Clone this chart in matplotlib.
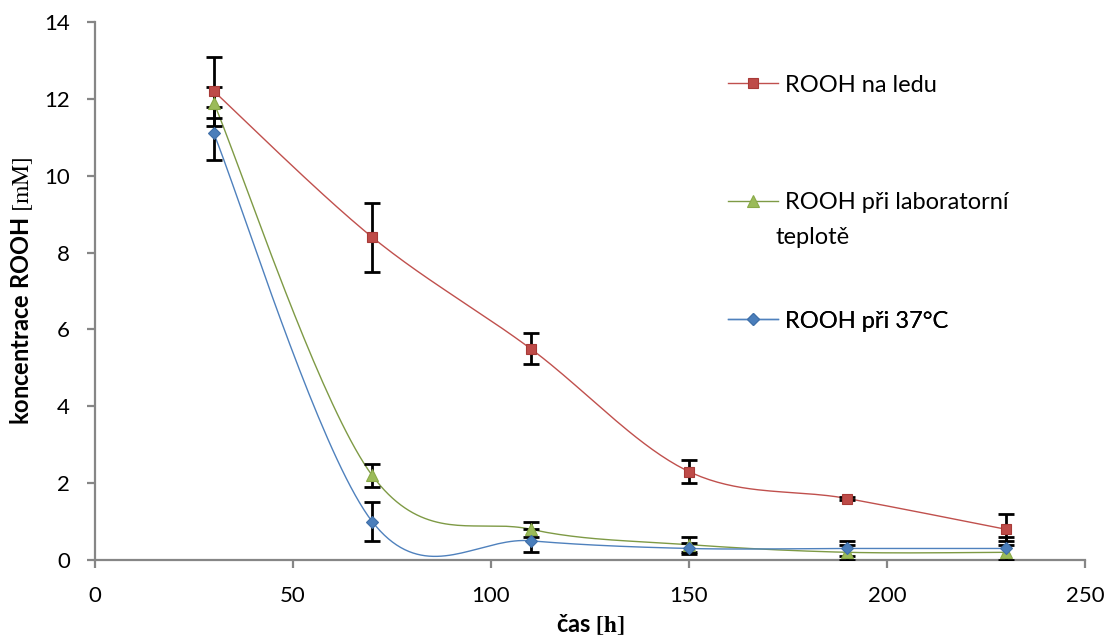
import numpy as np
import matplotlib
matplotlib.use("Agg")
import matplotlib.pyplot as plt
from matplotlib.lines import Line2D

# data
cas = [30, 70, 110, 150, 190, 230]

led = [12.2, 8.4, 5.5, 2.3, 1.6, 0.8]
led_err = [0.9, 0.9, 0.4, 0.3, 0.05, 0.4]

lab = [11.9, 2.2, 0.8, 0.4, 0.2, 0.2]
lab_err = [0.4, 0.3, 0.2, 0.2, 0.2, 0.3]

t37 = [11.1, 1.0, 0.5, 0.3, 0.3, 0.3]
t37_err = [0.7, 0.5, 0.3, 0.15, 0.2, 0.3]

labels = ["ROOH na ledu", "ROOH při laboratorní", "ROOH při 37°C"]
label_extra = "teplotě"
x_ticks = [0, 50, 100, 150, 200, 250]
y_ticks = [0, 2, 4, 6, 8, 10, 12, 14]


def smooth(xs, ys, n=40):
    """Excel-like smoothed line (Catmull-Rom as cubic Bezier segments)."""
    p = np.column_stack([xs, ys]).astype(float)
    p = np.vstack([p[0], p, p[-1]])
    out = []
    t = np.linspace(0, 1, n)[:, None]
    for i in range(1, len(p) - 2):
        p0, p3 = p[i], p[i + 1]
        c1 = p0 + (p[i + 1] - p[i - 1]) / 6
        c2 = p3 - (p[i + 2] - p[i]) / 6
        seg = ((1 - t) ** 3 * p0 + 3 * (1 - t) ** 2 * t * c1
               + 3 * (1 - t) * t ** 2 * c2 + t ** 3 * p3)
        out.append(seg)
    seg = np.vstack(out)
    return seg[:, 0], seg[:, 1]


plt.rcParams['font.family'] = ['Lato', 'DejaVu Sans']
plt.rcParams['mathtext.fontset'] = 'stix'

fig = plt.figure(figsize=(11.08, 6.39), dpi=100)
ax = fig.add_axes([95 / 1108, 1 - 560 / 639, 990 / 1108, 538 / 639])

series = [
    (led, led_err, "#C0504D", "s", "#BE4B48", "#A83A37", 7.5),
    (lab, lab_err, "#7E9A45", "^", "#9BBB59", "#8AAA48", 9),
    (t37, t37_err, "#4F81BD", "D", "#4A7EBB", "#3F6FA8", 6.5),
]

handles = []
for ys, err, lc, mk, mfc, mec, ms in series:
    sx, sy = smooth(cas, ys)
    ax.plot(sx, sy, color=lc, lw=1.0, zorder=2)
    ax.errorbar(cas, ys, yerr=err, fmt="none", ecolor="black",
                elinewidth=2, capsize=6, capthick=2, zorder=3)
    ax.plot(cas, ys, ls="none", marker=mk, ms=ms, mfc=mfc, mec=mec,
            mew=0.8, zorder=4)
    handles.append(Line2D([], [], color=lc, lw=1.0, marker=mk, ms=ms,
                          mfc=mfc, mec=mec, mew=0.8))

# legend entries, one per row (second label wraps onto a second line)
row_y = [85, 203, 321]
for h, lbl, yy in zip(handles, labels, row_y):
    leg = ax.legend([h], [lbl], loc="center left",
                    bbox_to_anchor=(728 / 1108, 1 - yy / 639),
                    bbox_transform=fig.transFigure, frameon=False,
                    fontsize=17, handlelength=2.1, handletextpad=0.3,
                    borderpad=0, borderaxespad=0)
    ax.add_artist(leg)
fig.text(776 / 1108, 1 - 237 / 639, label_extra, fontsize=17,
         ha="left", va="center")

ax.set_xlim(0, 250)
ax.set_ylim(0, 14)
ax.set_xticks(x_ticks)
ax.set_yticks(y_ticks)

for s in ["top", "right"]:
    ax.spines[s].set_visible(False)
for s in ["left", "bottom"]:
    ax.spines[s].set_color("#868686")
    ax.spines[s].set_linewidth(1.6)
ax.tick_params(direction="out", length=6, width=1.6, color="#868686",
               labelsize=16, labelcolor="black")
ax.tick_params(axis="x", pad=13)
ax.tick_params(axis="y", pad=12)

ax.set_xlabel(r"čas $\mathbf{[h]}$", fontsize=17, fontweight="bold", labelpad=4)
ax.set_ylabel(r"koncentrace ROOH $\mathrm{[mM]}$", fontsize=17,
              fontweight="bold", labelpad=7)

fig.savefig("out.png", dpi=100)
